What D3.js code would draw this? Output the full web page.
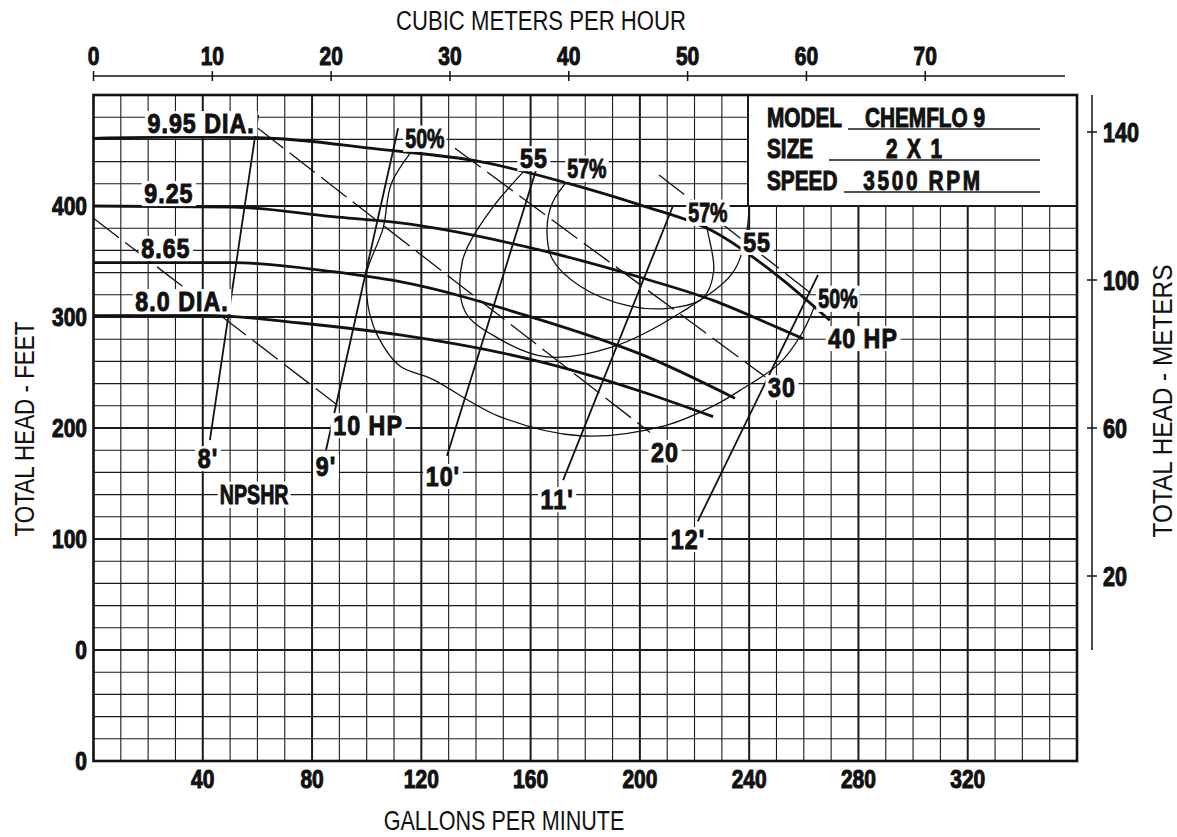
<!DOCTYPE html>
<html>
<head>
<meta charset="utf-8">
<script src="https://cdn.jsdelivr.net/npm/d3@7"></script>
<style>
  html, body { margin: 0; padding: 0; background: #fff; }
  svg { display: block; }
  text { font-family: 'Liberation Sans', Arial, sans-serif; fill: #111; }
</style>
</head>
<body>
<div id="chart"></div>
<script>
// ---- data (gpm, feet) ----
const gpmTicks = [40, 80, 120, 160, 200, 240, 280, 320];
const feetTicks = [-100, 0, 100, 200, 300, 400];
const feetTickLabels = ["0", "0", "100", "200", "300", "400"];
const cmhTicks = [0, 10, 20, 30, 40, 50, 60, 70];
const meterTicks = [20, 60, 100, 140];

// head-capacity curves per impeller diameter
const dia995 = [[0, 461], [30, 462], [60, 461.5], [105, 451], [141.5, 440], [178, 417.5], [200, 401], [227, 377], [251, 336], [269.5, 297]];
const dia925 = [[0, 400], [51, 399], [87.6, 390.4], [112.2, 384.7], [165.9, 358.8], [202.5, 334], [226.8, 315], [251.3, 289.5], [259.7, 280.6]];
const dia865 = [[0, 349], [51, 349], [87.6, 340.8], [112.2, 331.8], [159.8, 300.3], [202.5, 264.3], [234.8, 226.8]];
const dia800 = [[0, 301.2], [41.4, 301.5], [75.6, 294.6], [112.2, 283.8], [165.9, 258.3], [202.5, 231.3], [226.8, 210.2]];

// efficiency contours
const eff50 = [[117, 451], [109, 420], [106, 380], [100, 340], [100, 320], [101, 304], [104, 283], [112, 256], [124, 244], [148, 211], [178, 193], [209, 202], [227, 220], [238, 236], [251, 258], [259, 284], [264, 310]];
const eff55 = [[159, 435], [145, 395], [135, 350], [136, 305], [148, 281], [166, 264], [190, 273], [215, 304], [234, 340], [239, 376], [240, 400]];
const eff57 = [[175, 427], [168, 403], [166, 379], [168, 352], [178, 328], [196, 310], [211, 308], [223, 317], [227, 341], [225, 375], [224, 386]];

// NPSHR lines
const npsh8 = [[60.3, 482], [42.6, 189]];
const npsh9 = [[111.5, 470], [85.1, 180]];
const npsh10 = [[162.3, 435], [129.4, 175]];
const npsh11 = [[212.1, 400], [171.9, 153]];
const npsh12 = [[265.2, 338], [221.2, 116]];

// horsepower lines
const hp10 = [[0, 389], [89.1, 221]];
const hp20 = [[60.2, 470], [203.7, 196]];
const hp30 = [[132.3, 452], [247.6, 243]];
const hp40 = [[207, 428], [269.6, 308]];

const curveLabels = [
  ["9.95 DIA.", 39.4, 474.8], ["9.25", 27.6, 411.7], ["8.65", 26.5, 362.2], ["8.0 DIA.", 32.4, 314.4],
  ["50%", 121.3, 461.3], ["55", 161.2, 443.2], ["57%", 180.6, 434.2], ["57%", 224.9, 394.6],
  ["55", 242.9, 367.6], ["50%", 272.5, 317.1], ["40 HP", 281.7, 281.1], ["30", 252, 236.9],
  ["20", 209.2, 178.4], ["10 HP", 100.5, 202.7], ["8'", 41.9, 172.9], ["9'", 85.1, 165.8],
  ["NPSHR", 58.8, 140.5], ["10'", 127.9, 156.8], ["11'", 169.7, 136.0], ["12'", 217.6, 100]
];

const infoKeys = ["MODEL", "SIZE", "SPEED"];
const infoValues = ["CHEMFLO 9", "2 X 1", "3500 RPM"];

// ---- layout ----
const W = 1177, H = 837;
const svg = d3.select('#chart').append('svg').attr('width', W).attr('height', H);

const x = d3.scaleLinear().domain([0, 360]).range([93.5, 1077]);
const y = d3.scaleLinear().domain([-100, 500]).range([761, 95]);
const xm = d3.scaleLinear().domain([0, 81.76]).range([93.5, 1065]);
const ym = d3.scaleLinear().domain([0, 150]).range([650, 95]);

// condensed text: Liberation Sans squeezed horizontally
function stext(parent, str, px, py, o) {
  const g = parent.append('g')
    .attr('transform', `translate(${px},${py})` + (o.rotate ? ` rotate(${o.rotate})` : '') + ` scale(${o.sx || 0.8},1)`);
  const bold = o.bold !== false;
  const t = g.append('text')
    .attr('font-size', o.size || 25)
    .attr('font-weight', bold ? 'bold' : 'normal')
    .attr('text-anchor', o.anchor || 'start')
    .attr('dy', o.dy || null)
    .attr('letter-spacing', o.ls || null)
    .attr('stroke', bold ? '#111' : null)
    .attr('stroke-width', bold ? 1 : null)
    .text(str);
  return { g, t };
}

// grid
const grid = svg.append('g');
grid.selectAll('line.v')
  .data(d3.range(10, 360, 10))
  .join('line')
  .attr('x1', d => x(d)).attr('x2', d => x(d))
  .attr('y1', y(500)).attr('y2', y(-100))
  .attr('stroke', '#1a1a1a')
  .attr('stroke-width', d => d % 40 === 0 ? 2 : 1.1);
grid.selectAll('line.h')
  .data(d3.range(-80, 500, 20))
  .join('line')
  .attr('x1', x(0)).attr('x2', x(360))
  .attr('y1', d => y(d)).attr('y2', d => y(d))
  .attr('stroke', '#1a1a1a')
  .attr('stroke-width', d => d % 100 === 0 ? 2 : 1.1);

// info box (covers the grid)
const box = svg.append('g');
box.append('rect')
  .attr('x', 748).attr('y', y(500))
  .attr('width', x(360) - 748).attr('height', y(400) - y(500))
  .attr('fill', '#fff').attr('stroke', '#1a1a1a').attr('stroke-width', 2);
const infoRowY = [127, 158, 190];
const underlineX = [848, 829, 844];
const valueX = [925, 915, 923];
const valueLs = [0, 2.5, 3.5];
infoKeys.forEach((k, i) => {
  stext(box, k, 767, infoRowY[i], { size: 27, sx: 0.77 });
  box.append('line')
    .attr('x1', underlineX[i]).attr('x2', 1040)
    .attr('y1', infoRowY[i] + 2).attr('y2', infoRowY[i] + 2)
    .attr('stroke', '#1a1a1a').attr('stroke-width', 1.5);
  stext(box, infoValues[i], valueX[i], infoRowY[i], { size: 27, sx: 0.77, anchor: 'middle', ls: valueLs[i] });
});

// frame
svg.append('rect')
  .attr('x', x(0)).attr('y', y(500))
  .attr('width', x(360) - x(0)).attr('height', y(-100) - y(500))
  .attr('fill', 'none').attr('stroke', '#111').attr('stroke-width', 2.6);

const line = d3.line().x(d => x(d[0])).y(d => y(d[1]));
const smooth = d3.line().x(d => x(d[0])).y(d => y(d[1])).curve(d3.curveCatmullRom.alpha(0.5));
const mono = d3.line().x(d => x(d[0])).y(d => y(d[1])).curve(d3.curveMonotoneX);

const curves = svg.append('g').attr('fill', 'none').attr('stroke', '#111');

// horsepower lines
[hp10, hp20, hp30, hp40].forEach(d => {
  curves.append('path').attr('d', line(d))
    .attr('stroke-width', 1.3).attr('stroke-dasharray', '32,8');
});

// efficiency curves
[eff50, eff55, eff57].forEach(d => {
  curves.append('path').attr('d', smooth(d)).attr('stroke-width', 1.3);
});

// NPSHR lines
[npsh8, npsh9, npsh10, npsh11, npsh12].forEach(d => {
  curves.append('path').attr('d', line(d)).attr('stroke-width', 1.8);
});

// head / capacity curves
[dia995, dia925, dia865, dia800].forEach(d => {
  curves.append('path').attr('d', mono(d)).attr('stroke-width', 2.8);
});

// curve labels with white backing
const labels = svg.append('g');
curveLabels.forEach(([txt, gx, fy]) => {
  const narrow = txt.includes('%') || txt === 'NPSHR';
  const { g, t } = stext(labels, txt, x(gx), y(fy), {
    size: narrow ? 28 : 27, sx: narrow ? 0.7 : 0.86, anchor: 'middle', dy: '0.36em',
    ls: narrow ? 0 : 1.2
  });
  const bb = t.node().getBBox();
  g.insert('rect', 'text')
    .attr('x', bb.x - 3).attr('y', bb.y + 3)
    .attr('width', bb.width + 6).attr('height', bb.height - 5)
    .attr('fill', '#fff');
});

// top axis: cubic meters per hour
const topAxis = svg.append('g');
topAxis.append('line')
  .attr('x1', xm(0)).attr('x2', xm(81.76)).attr('y1', 76).attr('y2', 76)
  .attr('stroke', '#111').attr('stroke-width', 1.5);
topAxis.selectAll('line.t').data(cmhTicks).join('line')
  .attr('x1', d => xm(d)).attr('x2', d => xm(d)).attr('y1', 71).attr('y2', 81)
  .attr('stroke', '#111').attr('stroke-width', 1.5);
cmhTicks.forEach(d => stext(topAxis, d, xm(d), 65, { size: 25, sx: 0.84, anchor: 'middle' }));
stext(svg, 'CUBIC METERS PER HOUR', 541, 30, { size: 28, sx: 0.79, bold: false, anchor: 'middle' });

// bottom axis: gallons per minute
const bottomAxis = svg.append('g');
gpmTicks.forEach(d => stext(bottomAxis, d, x(d), 788, { size: 25, sx: 0.84, anchor: 'middle' }));
stext(svg, 'GALLONS PER MINUTE', 504, 830, { size: 28, sx: 0.77, bold: false, anchor: 'middle' });

// left axis: feet
const leftAxis = svg.append('g');
feetTicks.forEach((d, i) => stext(leftAxis, feetTickLabels[i], 87, y(d), { size: 25, sx: 0.84, anchor: 'end', dy: '0.36em' }));
stext(svg, 'TOTAL HEAD - FEET', 34, 429, { size: 28, sx: 0.8, bold: false, anchor: 'middle', rotate: -90 });

// right axis: meters
const rightAxis = svg.append('g');
rightAxis.append('line')
  .attr('x1', 1092).attr('x2', 1092).attr('y1', ym(150)).attr('y2', ym(0))
  .attr('stroke', '#111').attr('stroke-width', 1.5);
rightAxis.selectAll('line.t').data(meterTicks).join('line')
  .attr('x1', 1087).attr('x2', 1097).attr('y1', d => ym(d)).attr('y2', d => ym(d))
  .attr('stroke', '#111').attr('stroke-width', 1.5);
meterTicks.forEach(d => stext(rightAxis, d, 1103, ym(d), { size: 27, sx: 0.8, dy: '0.36em' }));
stext(svg, 'TOTAL HEAD - METERS', 1172, 401, { size: 28, sx: 0.87, bold: false, anchor: 'middle', rotate: -90 });
</script>
</body>
</html>
